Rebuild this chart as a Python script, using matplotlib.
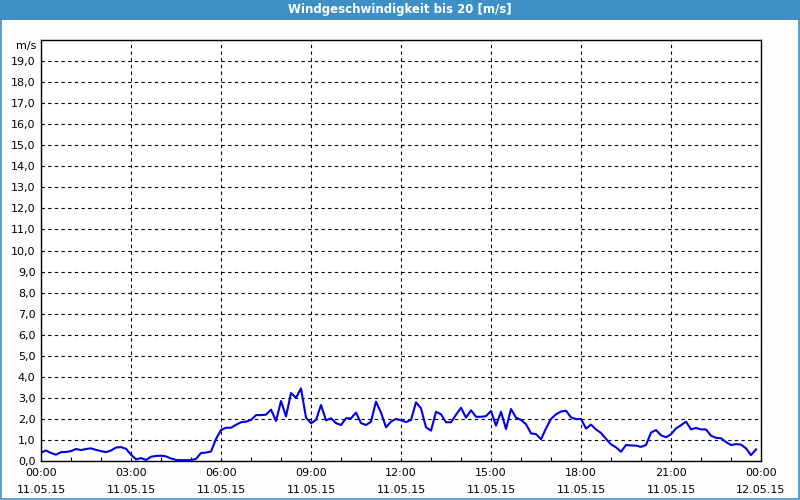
import numpy as np
import pandas as pd
import matplotlib
matplotlib.use("Agg")
import matplotlib.pyplot as plt
import matplotlib.dates as mdates
from matplotlib.patches import Rectangle

# wind speed in m/s, one value every 10 minutes starting 11.05.15 00:00
speed = [0.40, 0.50, 0.38, 0.30, 0.42, 0.43, 0.47, 0.57, 0.52, 0.57, 0.60, 0.53,
         0.47, 0.42, 0.50, 0.64, 0.66, 0.58, 0.30, 0.08, 0.14, 0.05, 0.20, 0.24,
         0.25, 0.22, 0.12, 0.05, 0.04, 0.04, 0.04, 0.10, 0.38, 0.40, 0.45, 1.05,
         1.47, 1.58, 1.58, 1.72, 1.84, 1.87, 1.95, 2.18, 2.18, 2.20, 2.44, 1.90,
         2.85, 2.12, 3.23, 3.00, 3.45, 2.06, 1.79, 1.95, 2.66, 1.93, 2.03, 1.80,
         1.71, 2.03, 2.03, 2.30, 1.80, 1.71, 1.87, 2.82, 2.30, 1.60, 1.87, 2.00,
         1.93, 1.85, 1.95, 2.79, 2.50, 1.60, 1.44, 2.34, 2.22, 1.84, 1.84, 2.20,
         2.53, 2.06, 2.41, 2.10, 2.10, 2.13, 2.38, 1.68, 2.34, 1.52, 2.47, 2.06,
         1.95, 1.75, 1.31, 1.28, 1.03, 1.55, 2.00, 2.22, 2.35, 2.39, 2.07, 1.99,
         2.00, 1.54, 1.73, 1.50, 1.33, 1.05, 0.79, 0.65, 0.44, 0.76, 0.74, 0.73,
         0.67, 0.76, 1.35, 1.47, 1.22, 1.13, 1.27, 1.55, 1.70, 1.87, 1.50, 1.57,
         1.50, 1.50, 1.20, 1.10, 1.08, 0.90, 0.76, 0.80, 0.78, 0.60, 0.28, 0.55]
start = "2015-05-11 00:00"
end = "2015-05-12 00:00"
title = "Windgeschwindigkeit bis 20 [m/s]"
unit = "m/s"

times = pd.date_range(start, periods=len(speed), freq="10min")

fig = plt.figure(figsize=(8, 5), dpi=100, facecolor="#fdfefd")
blue = "#3d8fc6"

# title bar and frame
fig.patches.append(Rectangle((0, 0.96), 1, 0.04, transform=fig.transFigure,
                             facecolor=blue, edgecolor="none", zorder=0))
fig.patches.append(Rectangle((0.001, 0.002), 0.998, 0.996, transform=fig.transFigure,
                             facecolor="none", edgecolor=blue, lw=1.2, zorder=0))
fig.text(0.5, 0.98, title, color="white", fontsize=8.5, fontweight="bold",
         ha="center", va="center")

ax = fig.add_axes([0.05125, 0.078, 0.9, 0.842])
ax.set_facecolor("white")
ax.plot(times, speed, color="#0000e6", lw=1.5, zorder=3)

ax.set_xlim(pd.Timestamp(start), pd.Timestamp(end))
ax.set_ylim(0, 20)
ax.set_yticks(np.arange(0, 20, 1))
ax.set_yticklabels([f"{v},0" for v in range(20)])

ax.xaxis.set_major_locator(mdates.HourLocator(byhour=range(0, 24, 3)))
ax.xaxis.set_minor_locator(mdates.HourLocator())
ax.xaxis.set_major_formatter(mdates.DateFormatter("%H:%M\n%d.%m.%y"))

ax.grid(True, which="major", color="black", lw=0.8, linestyle=(0, (3, 3)))
ax.tick_params(axis="both", which="major", length=0, labelsize=8, pad=4)
ax.tick_params(axis="x", which="major", pad=5)
ax.tick_params(axis="x", which="minor", direction="in", length=3, width=0.8)
for lbl in ax.get_xticklabels():
    lbl.set_linespacing(1.9)
for s in ax.spines.values():
    s.set_linewidth(1.0)
    s.set_color("black")

ax.text(-0.006, 19.7, unit, transform=ax.get_yaxis_transform(), ha="right",
        va="center", fontsize=8)

fig.savefig("out.png", dpi=100, facecolor=fig.get_facecolor())
